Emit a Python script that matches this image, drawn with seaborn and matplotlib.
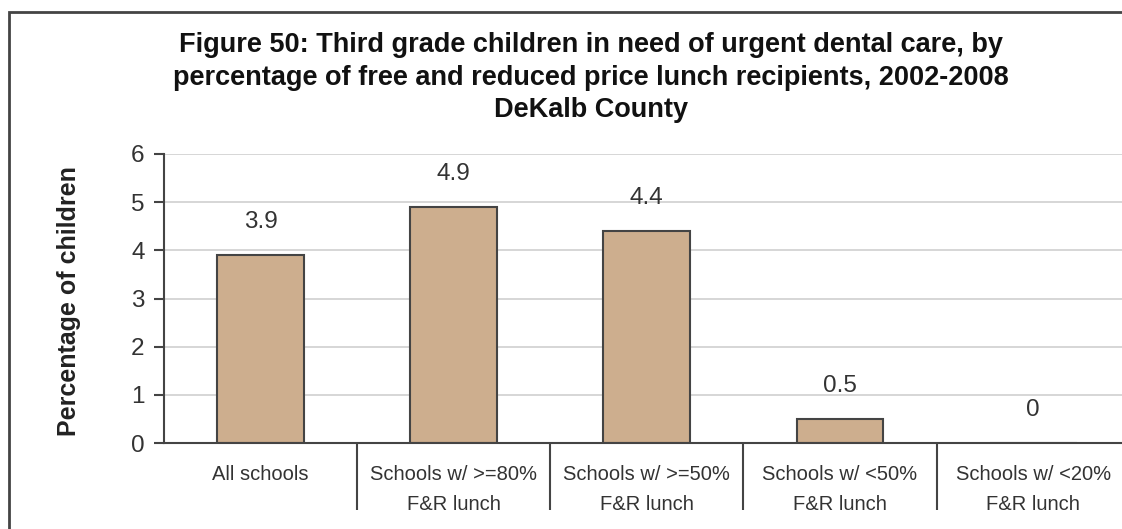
import matplotlib
matplotlib.use("Agg")
import matplotlib.pyplot as plt
import seaborn as sns
import pandas as pd
from matplotlib.patches import Rectangle

categories = ["All schools", "Schools w/ >=80%\nF&R lunch", "Schools w/ >=50%\nF&R lunch",
              "Schools w/ <50%\nF&R lunch", "Schools w/ <20%\nF&R lunch"]
values = [3.9, 4.9, 4.4, 0.5, 0.0]
value_labels = ["3.9", "4.9", "4.4", "0.5", "0"]
yticks = [0, 1, 2, 3, 4, 5, 6]

sns.set_theme(style="white")
plt.rcParams["font.family"] = ["Liberation Sans", "DejaVu Sans"]

fig = plt.figure(figsize=(11.22, 5.29), dpi=100)
ax = fig.add_axes([164/1122, 1-443/529, 1-164/1122, (443-154)/529])

df = pd.DataFrame({"cat": categories, "val": values})
sns.barplot(data=df, x="cat", y="val", ax=ax, color="#CDAE8E", saturation=1,
            width=0.45, edgecolor="#444444", linewidth=1.5)

ax.set_ylim(0, 6)
ax.set_xlim(-0.5, 4.46)
ax.set_yticks(yticks)
ax.yaxis.grid(True, color="#D0D0D0", linewidth=1.2)
ax.set_axisbelow(True)
for s in ["top", "right"]:
    ax.spines[s].set_visible(False)
for s in ["left", "bottom"]:
    ax.spines[s].set_color("#444444")
    ax.spines[s].set_linewidth(1.5)

ax.tick_params(axis="y", which="major", direction="out", length=7, width=1.5,
               color="#444444", labelsize=17.5, labelcolor="#333333", left=True, pad=7)
ax.tick_params(axis="x", which="major", length=0, labelsize=14.5, labelcolor="#333333", pad=16)
ax.set_xticks(range(len(categories)))
ax.set_xticklabels(categories, linespacing=1.7)
ax.set_xticks([0.5, 1.5, 2.5, 3.5], minor=True)
ax.tick_params(axis="x", which="minor", direction="out", length=48, width=1.5,
               color="#444444", bottom=True)

ax.set_xlabel("")
ax.set_ylabel("Percentage of children", fontsize=18, fontweight="bold", color="#222222")
ax.yaxis.set_label_coords((81-164)/958, 0.49)

for i, (v, lab) in enumerate(zip(values, value_labels)):
    ax.annotate(lab, (i, v), xytext=(0, 24), textcoords="offset points",
                ha="center", va="center", fontsize=17.5, color="#333333")

title_lines = ["Figure 50: Third grade children in need of urgent dental care, by",
               "percentage of free and reduced price lunch recipients, 2002-2008",
               "DeKalb County"]
for yy, line in zip([45, 78, 110], title_lines):
    fig.text(591/1122, 1-yy/529, line, ha="center", va="center", fontsize=19.5,
             fontweight="bold", color="#111111")

top = 1 - 12/529
fig.patches.append(Rectangle((9/1122, -0.2), 1.2, top + 0.2, transform=fig.transFigure,
                             fill=False, edgecolor="#444444", linewidth=2, clip_on=False))

fig.savefig("out.png", dpi=100)
